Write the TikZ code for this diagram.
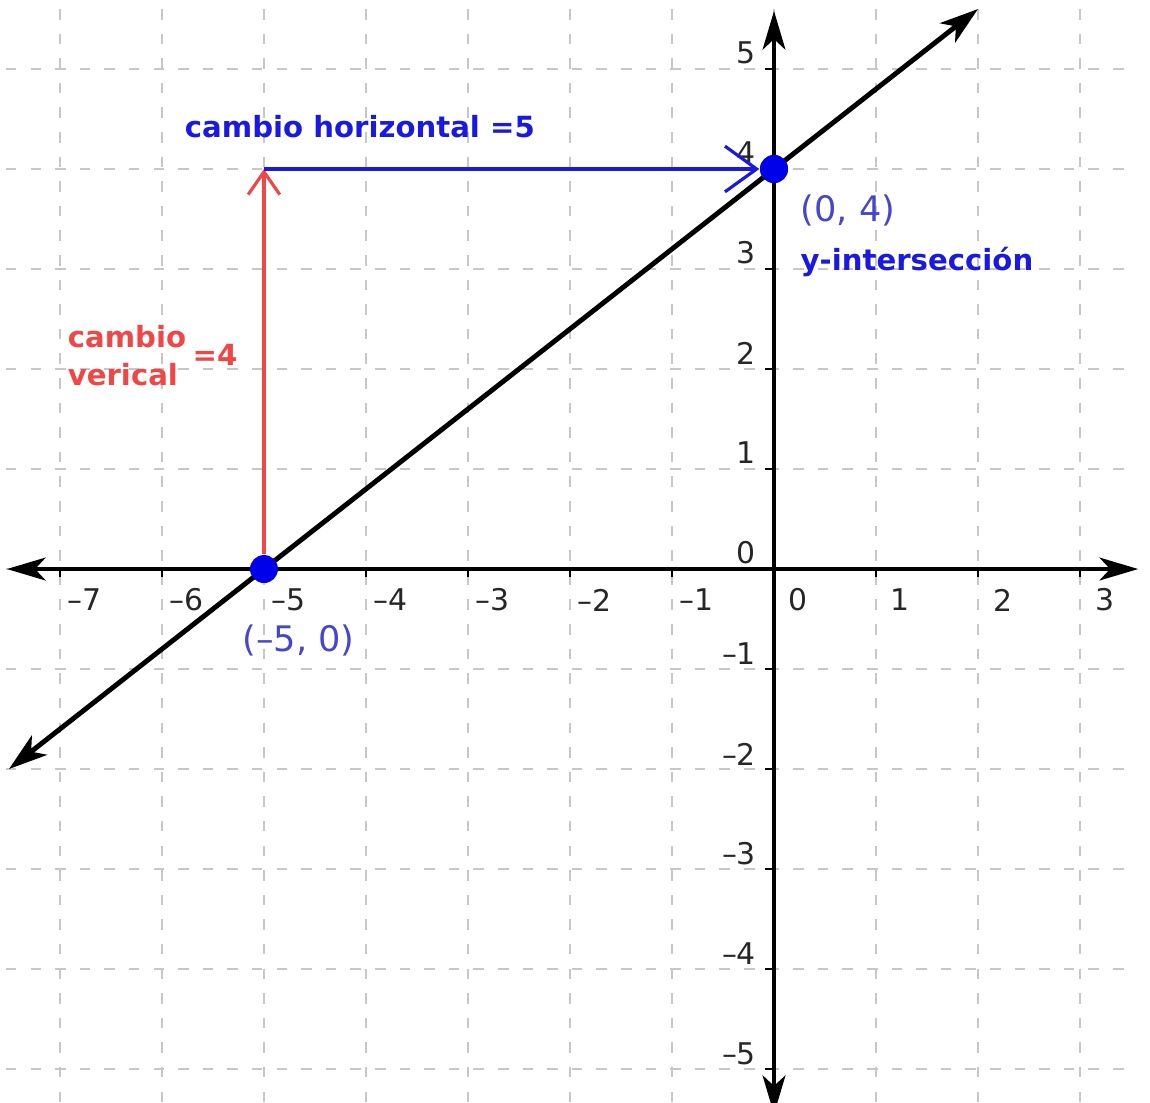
\documentclass[tikz,border=0pt]{standalone}
\usepackage{fontspec}
\setmainfont{DejaVu Sans}
\usetikzlibrary{arrows.meta, positioning}

\definecolor{chgblue}{RGB}{25,25,225}
\definecolor{ptblue}{RGB}{70,70,205}
\definecolor{chgred}{RGB}{240,70,70}
\definecolor{dotblue}{RGB}{0,0,235}

\begin{document}
\begin{tikzpicture}[x=1.02cm, y=1cm,
  gridln/.style={black!22, line width=0.55pt, dash pattern=on 3pt off 4pt},
  axisln/.style={{Stealth[length=11pt,width=6.5pt,inset=3pt]}-{Stealth[length=11pt,width=6.5pt,inset=3pt]}, line width=1.1pt},
  lineln/.style={{Stealth[length=11pt,width=7pt,inset=3pt]}-{Stealth[length=11pt,width=7pt,inset=3pt]}, line width=1.4pt},
  tck/.style={line width=0.6pt},
  nlbl/.style={font=\fontsize{8.5}{10}\selectfont, text=black!85, inner sep=0pt},
  dot/.style={circle, fill=dotblue, minimum size=0.28cm, inner sep=0pt},
  vchg/.style={-{Straight Barb[length=6.5pt,width=9pt]}, chgred, line width=0.9pt},
  hchg/.style={-{Straight Barb[length=9pt,width=13pt]}, chgblue, line width=0.9pt},
  chglbl/.style={font=\bfseries\fontsize{8.3}{10.8}\selectfont, inner sep=0pt},
  ptlbl/.style={font=\fontsize{10}{12}\selectfont, text=ptblue, inner sep=0pt}
]
  \useasboundingbox (-7.588,-5.33) rectangle (3.686,5.69);

  % grid
  \foreach \x in {-7,...,3} \draw[gridln] (\x,5.6) -- (\x,-5.4);
  \foreach \y in {-5,...,5} \draw[gridln] (-7.53,\y) -- (3.5,\y);

  % axes
  \coordinate (xl) at (-7.52,0);
  \coordinate (xr) at (3.57,0);
  \coordinate (yt) at (0,5.58);
  \coordinate (yb) at (0,-5.45);
  \draw[axisln] (xl) -- (xr);
  \draw[axisln] (yb) -- (yt);
  \foreach \x in {-7,...,3} \draw[tck] (\x,0) -- (\x,-0.08);
  \foreach \y in {-5,...,5} \draw[tck] (0,\y) -- (-0.09,\y);

  % tick labels
  \foreach \x in {1,...,7} \node[nlbl] (xn\x) at (-\x+0.24,-0.31) {–\x};
  \foreach \x in {0,...,3} \node[nlbl] (xp\x) at (\x+0.24,-0.31) {\x};
  \foreach \y in {1,...,5} \node[nlbl, anchor=east] (yn\y) at (-0.17,-\y+0.15) {–\y};
  \foreach \y in {0,...,5} \node[nlbl, anchor=east] (yp\y) at (-0.17,\y+0.16) {\y};

  % line y = 4/5 x + 4
  \coordinate (lnA) at (-7.5,-2);
  \coordinate (lnB) at (2,5.6);
  \draw[lineln] (lnA) -- (lnB);

  \node[dot] (xint) at (-5,0) {};
  \node[dot] (yint) at (0,4) {};
  \coordinate (corner) at (-5,4);
  \draw[vchg] (xint) -- (corner);
  \draw[hchg] (corner) -- (yint);
  \node[dot] at (yint) {};

  % labels
  \node[chglbl, text=chgblue] (htxt) at (-4.06,4.42) {cambio horizontal =5};
  \node[chglbl, text=chgred, align=left, anchor=west] (vtxt) at (-6.93,2.13) {cambio\\verical};
  \node[chglbl, text=chgred] (veq) at (-5.48,2.14) {=4};
  \node[ptlbl, anchor=west] (ylbl) at (0.255,3.59) {(0, 4)};
  \node[chglbl, text=chgblue, anchor=west] (ytxt) at (0.255,3.07) {y-intersección};
  \node[ptlbl] (xlbl) at (-4.66,-0.71) {(–5, 0)};
\end{tikzpicture}
\end{document}
